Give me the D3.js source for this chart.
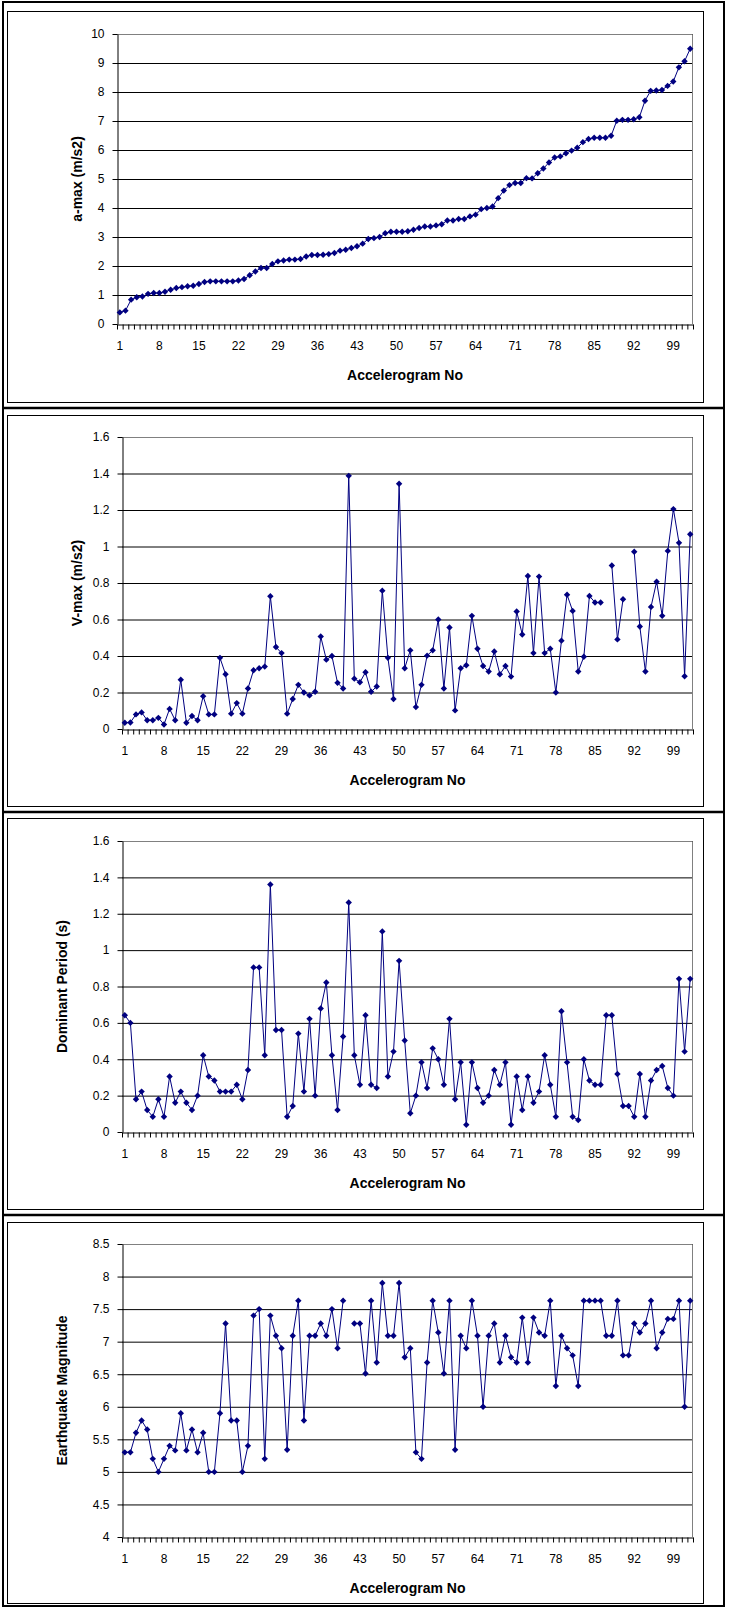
<!DOCTYPE html>
<html>
<head>
<meta charset="utf-8">
<script src="https://cdn.jsdelivr.net/npm/d3@7"></script>
<style>
  body { margin: 0; background: #fff; }
  svg { display: block; }
  text { font-family: "Liberation Sans", Arial, sans-serif; fill: #000; }
</style>
</head>
<body>
<svg id="chart" width="729" height="1608"></svg>
<script>
// accelerogram numbers 1..102
const accelNo = d3.range(1, 103);
const xTickLabels = [1, 8, 15, 22, 29, 36, 43, 50, 57, 64, 71, 78, 85, 92, 99];

const aMax = [
  0.40, 0.46, 0.84, 0.92, 0.95, 1.04, 1.07, 1.07, 1.11, 1.18,
  1.24, 1.27, 1.30, 1.32, 1.38, 1.45, 1.47, 1.47, 1.47, 1.47,
  1.47, 1.50, 1.55, 1.68, 1.81, 1.93, 1.93, 2.07, 2.16, 2.19,
  2.22, 2.22, 2.24, 2.33, 2.38, 2.38, 2.39, 2.41, 2.45, 2.53,
  2.56, 2.62, 2.68, 2.77, 2.93, 2.96, 3.00, 3.13, 3.18, 3.18,
  3.18, 3.20, 3.25, 3.31, 3.36, 3.36, 3.40, 3.44, 3.57, 3.57,
  3.62, 3.62, 3.71, 3.77, 3.96, 4.00, 4.05, 4.34, 4.60, 4.79,
  4.86, 4.86, 5.03, 5.02, 5.20, 5.36, 5.57, 5.74, 5.78, 5.89,
  5.98, 6.08, 6.27, 6.38, 6.42, 6.42, 6.42, 6.49, 7.01, 7.04,
  7.04, 7.06, 7.13, 7.70, 8.04, 8.05, 8.07, 8.21, 8.36, 8.85,
  9.06, 9.49,
];

const vMax = [
  0.034, 0.036, 0.08, 0.091, 0.048, 0.048, 0.061, 0.025, 0.11, 0.048,
  0.27, 0.034, 0.071, 0.048, 0.18, 0.08, 0.08, 0.39, 0.30, 0.084,
  0.142, 0.084, 0.222, 0.322, 0.333, 0.342, 0.727, 0.449, 0.416, 0.084,
  0.164, 0.242, 0.20, 0.184, 0.204, 0.507, 0.38, 0.40, 0.253, 0.222,
  1.387, 0.276, 0.256, 0.311, 0.204, 0.233, 0.758, 0.39, 0.164, 1.344,
  0.333, 0.431, 0.12, 0.242, 0.402, 0.431, 0.60, 0.222, 0.556, 0.102,
  0.333, 0.349, 0.62, 0.44, 0.345, 0.315, 0.425, 0.30, 0.345, 0.287,
  0.644, 0.518, 0.838, 0.416, 0.835, 0.416, 0.44, 0.20, 0.484, 0.736,
  0.647, 0.315, 0.396, 0.729, 0.693, 0.693, null, 0.896, 0.491, 0.711,
  null, 0.971, 0.562, 0.315, 0.669, 0.807, 0.62, 0.976, 1.205, 1.02,
  0.289, 1.067,
];

const domPeriod = [
  0.642, 0.60, 0.18, 0.222, 0.121, 0.084, 0.18, 0.084, 0.305, 0.161,
  0.222, 0.161, 0.121, 0.20, 0.422, 0.305, 0.283, 0.222, 0.222, 0.222,
  0.26, 0.18, 0.341, 0.905, 0.905, 0.422, 1.361, 0.561, 0.561, 0.084,
  0.143, 0.541, 0.222, 0.622, 0.20, 0.679, 0.822, 0.422, 0.121, 0.525,
  1.262, 0.422, 0.26, 0.642, 0.26, 0.242, 1.103, 0.305, 0.442, 0.941,
  0.503, 0.103, 0.20, 0.383, 0.242, 0.46, 0.40, 0.26, 0.622, 0.18,
  0.383, 0.04, 0.383, 0.242, 0.161, 0.20, 0.341, 0.26, 0.383, 0.04,
  0.305, 0.121, 0.305, 0.161, 0.222, 0.422, 0.26, 0.084, 0.664, 0.383,
  0.084, 0.066, 0.40, 0.283, 0.26, 0.26, 0.642, 0.642, 0.319, 0.143,
  0.143, 0.084, 0.319, 0.084, 0.283, 0.341, 0.363, 0.242, 0.20, 0.842,
  0.442, 0.842,
];

const magnitude = [
  5.30, 5.30, 5.60, 5.79, 5.65, 5.20, 5.00, 5.20, 5.40, 5.33,
  5.90, 5.33, 5.65, 5.30, 5.60, 5.00, 5.00, 5.90, 7.28, 5.79,
  5.79, 5.00, 5.40, 7.40, 7.50, 5.20, 7.40, 7.09, 6.90, 5.34,
  7.09, 7.63, 5.79, 7.09, 7.09, 7.28, 7.09, 7.50, 6.90, 7.63,
  null, 7.28, 7.28, 6.51, 7.63, 6.68, 7.90, 7.09, 7.09, 7.90,
  6.76, 6.90, 5.30, 5.20, 6.68, 7.63, 7.14, 6.51, 7.63, 5.34,
  7.09, 6.90, 7.63, 7.09, 6.00, 7.09, 7.28, 6.68, 7.09, 6.76,
  6.68, 7.37, 6.68, 7.37, 7.14, 7.09, 7.63, 6.32, 7.09, 6.90,
  6.79, 6.32, 7.63, 7.63, 7.63, 7.63, 7.09, 7.09, 7.63, 6.79,
  6.79, 7.28, 7.14, 7.28, 7.63, 6.90, 7.14, 7.35, 7.35, 7.63,
  6.00, 7.63,
];

const aMaxTicks = d3.range(0, 11, 1);
const vMaxTicks = [0, 0.2, 0.4, 0.6, 0.8, 1, 1.2, 1.4, 1.6];
const periodTicks = [0, 0.2, 0.4, 0.6, 0.8, 1, 1.2, 1.4, 1.6];
const magTicks = [4, 4.5, 5, 5.5, 6, 6.5, 7, 7.5, 8, 8.5];

const xTitle = "Accelerogram No";
const navy = "#000080";

// layout of the four stacked charts
const panels = [
  { title: "a-max (m/s2)", values: aMax, ticks: aMaxTicks,
    top: 11, bottom: 402, plotTop: 34, plotBottom: 324, plotLeft: 117, titleX: 77 },
  { title: "V-max (m/s2)", values: vMax, ticks: vMaxTicks,
    top: 415, bottom: 806, plotTop: 437, plotBottom: 729, plotLeft: 122, titleX: 77 },
  { title: "Dominant Period (s)", values: domPeriod, ticks: periodTicks,
    top: 818, bottom: 1209, plotTop: 841, plotBottom: 1132, plotLeft: 122, titleX: 62 },
  { title: "Earthquake Magnitude", values: magnitude, ticks: magTicks,
    top: 1222, bottom: 1603, plotTop: 1244, plotBottom: 1537, plotLeft: 122, titleX: 62 },
];
const plotRight = 693;
const chartLeft = 7;
const chartRight = 703;

const svg = d3.select("#chart");

// table cell borders
const tableG = svg.append("g");
const cellLines = [2, 408, 812, 1215, 1606];
tableG.append("rect")
  .attr("x", 3).attr("y", 2)
  .attr("width", 721).attr("height", 1604)
  .attr("fill", "none").attr("stroke", "#000").attr("stroke-width", 2);
tableG.selectAll("line")
  .data(cellLines.slice(1, -1))
  .join("line")
  .attr("x1", 3).attr("x2", 724)
  .attr("y1", (d) => d).attr("y2", (d) => d)
  .attr("stroke", "#000").attr("stroke-width", 2.5);

const diamond = "M0,-3.2L3.2,0L0,3.2L-3.2,0Z";

function drawPanel(p) {
  const g = svg.append("g");

  g.append("rect")
    .attr("x", chartLeft + 0.5).attr("y", p.top + 0.5)
    .attr("width", chartRight - chartLeft).attr("height", p.bottom - p.top)
    .attr("fill", "#fff").attr("stroke", "#000").attr("stroke-width", 1);

  const yMin = p.ticks[0];
  const yMax = p.ticks[p.ticks.length - 1];
  const y = d3.scaleLinear().domain([yMin, yMax]).range([p.plotBottom, p.plotTop]);
  const x = d3.scaleBand().domain(accelNo).range([p.plotLeft, plotRight]);
  const xEdge = d3.scaleLinear().domain([0, accelNo.length]).range([p.plotLeft, plotRight]);
  const w = plotRight - p.plotLeft;

  // gridlines
  g.append("g")
    .attr("transform", `translate(${p.plotLeft},0)`)
    .call(d3.axisLeft(y).tickValues(p.ticks.slice(1)).tickSize(-w).tickFormat(""))
    .call((s) => s.select(".domain").remove())
    .call((s) => s.selectAll("line").attr("stroke", "#000"));

  // plot area border (top / right)
  g.append("path")
    .attr("d", `M${p.plotLeft},${p.plotTop + 0.5}H${plotRight - 0.5}V${p.plotBottom}`)
    .attr("fill", "none").attr("stroke", "#808080");

  // y axis
  const fmt = (d) => String(+d.toFixed(1));
  g.append("g")
    .attr("transform", `translate(${p.plotLeft + 0.5},0)`)
    .call(d3.axisLeft(y).tickValues(p.ticks).tickSize(5).tickSizeOuter(0)
      .tickPadding(8).tickFormat(fmt))
    .call((s) => s.selectAll("path,line").attr("stroke", "#000"))
    .call((s) => s.selectAll("text").attr("font-size", 12)
      .attr("font-family", '"Liberation Sans", Arial, sans-serif'));

  // x axis: tick marks at category edges
  g.append("g")
    .attr("transform", `translate(0,${p.plotBottom + 0.5})`)
    .call(d3.axisBottom(xEdge).tickValues(d3.range(0, accelNo.length + 1))
      .tickSize(5).tickSizeOuter(0).tickFormat(""))
    .call((s) => s.selectAll("path,line").attr("stroke", "#000"));

  // x axis labels every 7th accelerogram
  g.append("g")
    .attr("transform", `translate(0,${p.plotBottom + 0.5})`)
    .call(d3.axisBottom(x).tickValues(xTickLabels).tickSize(0).tickPadding(17))
    .call((s) => s.select(".domain").remove())
    .call((s) => s.selectAll("text").attr("font-size", 12)
      .attr("font-family", '"Liberation Sans", Arial, sans-serif'));

  // series line and diamond markers
  const cx = (i) => x(accelNo[i]) + x.bandwidth() / 2;
  const line = d3.line()
    .defined((d) => d != null)
    .x((d, i) => cx(i))
    .y((d) => y(d));
  g.append("path")
    .datum(p.values)
    .attr("d", line)
    .attr("fill", "none")
    .attr("stroke", navy)
    .attr("stroke-width", 1);

  g.append("g")
    .selectAll("path")
    .data(p.values.map((v, i) => ({ v, i })).filter((d) => d.v != null))
    .join("path")
    .attr("d", diamond)
    .attr("transform", (d) => `translate(${cx(d.i)},${y(d.v)})`)
    .attr("fill", navy);

  // axis titles
  g.append("text")
    .attr("x", (p.plotLeft + plotRight) / 2)
    .attr("y", p.plotBottom + 56)
    .attr("text-anchor", "middle")
    .attr("font-size", 14)
    .attr("font-weight", "bold")
    .text(xTitle);

  g.append("text")
    .attr("transform", `translate(${p.titleX + 5},${(p.plotTop + p.plotBottom) / 2}) rotate(-90)`)
    .attr("text-anchor", "middle")
    .attr("font-size", 14)
    .attr("font-weight", "bold")
    .text(p.title);
}

panels.forEach(drawPanel);
</script>
</body>
</html>
